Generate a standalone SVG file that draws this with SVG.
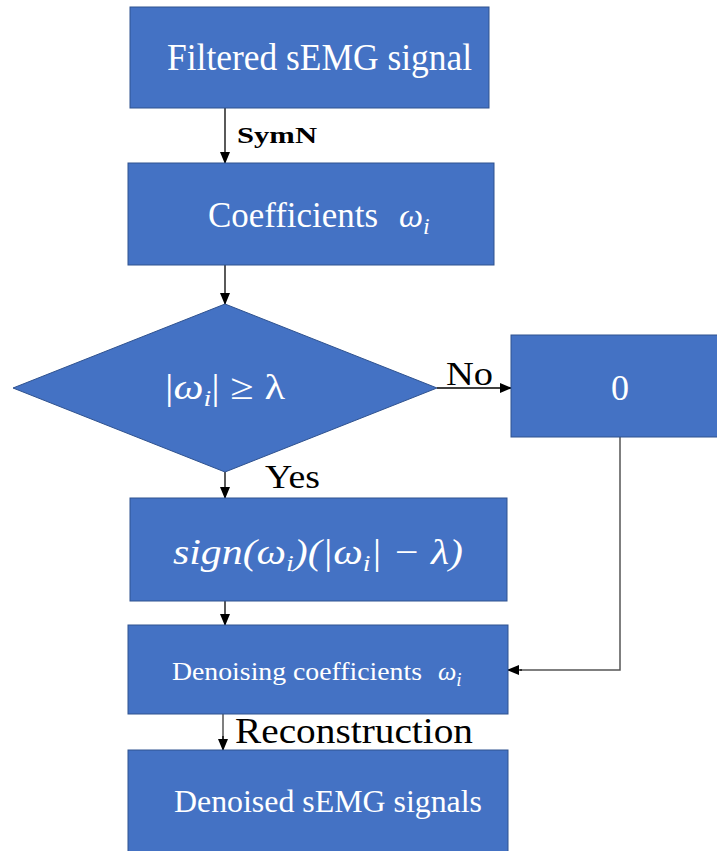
<svg xmlns="http://www.w3.org/2000/svg" width="717" height="851" viewBox="0 0 717 851">
<style>
.box{fill:#4472C4;stroke:#2F528F;stroke-width:1}
.t{font-family:"Liberation Serif","Times New Roman",serif;fill:#ffffff}
.m{font-family:"Liberation Serif","Times New Roman",serif;font-style:italic;fill:#ffffff}
.lbl{font-family:"Liberation Serif","Times New Roman",serif;fill:#000000}
.ln{stroke:#000;stroke-width:1.3;fill:none}
.gl{stroke:#555;stroke-width:1.5;fill:none}
</style>
<defs>
<marker id="ah" markerWidth="12" markerHeight="10" refX="11" refY="5" orient="auto" markerUnits="userSpaceOnUse">
<path d="M0,0 L12,5 L0,10 Z" fill="#000"/>
</marker>
</defs>
<g id="connectors">
<line class="ln" x1="225" y1="108" x2="225" y2="163" marker-end="url(#ah)"/>
<line class="ln" x1="225" y1="265" x2="225" y2="304" marker-end="url(#ah)"/>
<line class="ln" x1="437" y1="388" x2="511" y2="388" marker-end="url(#ah)"/>
<line class="ln" x1="225" y1="472" x2="225" y2="498" marker-end="url(#ah)"/>
<line class="ln" x1="225" y1="601" x2="225" y2="625" marker-end="url(#ah)"/>
<polyline class="gl" points="620,437 620,670 520,670"/>
<line class="ln" x1="522" y1="670" x2="508" y2="670" marker-end="url(#ah)"/>
<line class="gl" x1="223" y1="714" x2="223" y2="740"/>
<line class="ln" x1="223" y1="736" x2="223" y2="750" marker-end="url(#ah)"/>
<text class="lbl" x="237" y="143" font-size="24" font-weight="bold" textLength="80" lengthAdjust="spacingAndGlyphs">SymN</text>
<text class="lbl" x="446" y="385" font-size="34" textLength="47" lengthAdjust="spacingAndGlyphs">No</text>
<text class="lbl" x="265" y="488" font-size="34" textLength="55" lengthAdjust="spacingAndGlyphs">Yes</text>
<text class="lbl" x="235" y="743" font-size="36" textLength="238" lengthAdjust="spacingAndGlyphs">Reconstruction</text>
</g>
<g id="n1">
<rect class="box" x="130" y="7" width="359" height="101"/>
<text class="t" x="167" y="70" font-size="38" textLength="305" lengthAdjust="spacingAndGlyphs">Filtered sEMG signal</text>
</g>
<g id="n2">
<rect class="box" x="128" y="163" width="366" height="102"/>
<text class="t" x="208" y="227" font-size="36" textLength="170" lengthAdjust="spacingAndGlyphs">Coefficients</text>
<text class="m" x="399" y="227" font-size="34">ω<tspan font-size="24" dy="7">i</tspan></text>
</g>
<g id="n3">
<polygon class="box" points="225,304 437,388 225,472 13,388"/>
<text class="m" x="165" y="399" font-size="36" textLength="120" lengthAdjust="spacingAndGlyphs"><tspan font-style="normal">|</tspan>ω<tspan font-size="24" dy="7">i</tspan><tspan dy="-7" font-style="normal">| ≥ λ</tspan></text>
</g>
<g id="n4">
<rect class="box" x="511" y="335" width="210" height="102"/>
<text class="t" x="620" y="400" font-size="36" text-anchor="middle">0</text>
</g>
<g id="n5">
<rect class="box" x="130" y="498" width="377" height="103"/>
<text class="m" x="173" y="564" font-size="36" textLength="290" lengthAdjust="spacingAndGlyphs">sign(ω<tspan font-size="24" dy="7">i</tspan><tspan dy="-7">)(|ω</tspan><tspan font-size="24" dy="7">i</tspan><tspan dy="-7">| − λ)</tspan></text>
</g>
<g id="n6">
<rect class="box" x="128" y="625" width="380" height="89"/>
<text class="t" x="172" y="680" font-size="26" textLength="250" lengthAdjust="spacingAndGlyphs">Denoising coefficients</text>
<text class="m" x="438" y="680" font-size="26">ω<tspan font-size="19" dy="6">i</tspan></text>
</g>
<g id="n7">
<rect class="box" x="128" y="750" width="380" height="110"/>
<text class="t" x="174" y="812" font-size="32" textLength="308" lengthAdjust="spacingAndGlyphs">Denoised  sEMG signals</text>
</g>
</svg>
